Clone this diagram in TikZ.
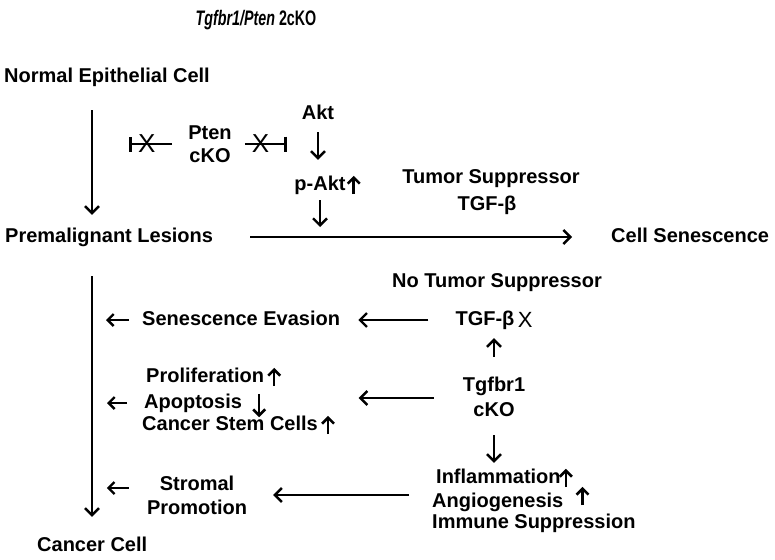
\documentclass[tikz,border=0pt]{standalone}
\usepackage{fontspec}
\usepackage{graphicx}
\setmainfont{Liberation Sans}
\usetikzlibrary{arrows.meta, positioning}

\begin{document}
\begin{tikzpicture}[x=1pt, y=-1pt,
    lbl/.style={font=\fontsize{20}{23}\selectfont\bfseries, inner sep=0pt, text height=14pt, text depth=4pt},
    twoline/.style={font=\fontsize{20}{23}\selectfont\bfseries, inner sep=0pt, align=center},
    xmark/.style={font=\fontsize{22}{24}\selectfont, inner sep=0pt},
    flow/.style={line width=2.4pt, -{Straight Barb[length=7pt, width=14pt, line width=2.4pt]}},
    small/.style={line width=2.4pt, -{Straight Barb[length=6pt, width=12pt, line width=2.4pt]}},
    chg/.style={line width=2.6pt, -{Straight Barb[length=6pt, width=12pt, line width=2.6pt]}},
    inhib/.style={line width=2.4pt, -{Bar[width=15pt, line width=2.6pt]}}]
    \useasboundingbox (0,0) rectangle (775,559);

    \node[font=\fontsize{21}{22}\selectfont\bfseries, inner sep=0pt] (title) at (256,20) {\scalebox{0.68}[1]{\textit{Tgfbr1/Pten} 2cKO}};

    \node[lbl, anchor=west] (normal) at (4,78) {Normal Epithelial Cell};
    \node[lbl, anchor=west] (premal) at (5,237) {Premalignant Lesions};
    \node[lbl, anchor=west] (cancer) at (37,546) {Cancer Cell};
    \node[lbl, anchor=west] (senes) at (611,237) {Cell Senescence};

    \node[twoline] (pten) at (210,144) {Pten\\cKO};
    \node[lbl] (akt) at (318,114) {Akt};
    \node[lbl] (pakt) at (320,185) {p-Akt};

    \node[lbl] (tsup) at (491,178) {Tumor Suppressor};
    \node[lbl] (tgfbup) at (487,205) {TGF-β};

    \node[lbl] (notsup) at (497,282) {No Tumor Suppressor};
    \node[lbl] (tgfb) at (485,320) {TGF-β};
    \node[xmark, right=3pt of tgfb] (tgfbx) {X};
    \node[twoline, font=\fontsize{20}{25}\selectfont\bfseries] (tgfbr) at (494,397) {Tgfbr1\\cKO};

    \node[lbl, anchor=west] (evasion) at (142,320) {Senescence Evasion};
    \node[lbl, anchor=west] (prolif) at (146,377) {Proliferation};
    \node[lbl, anchor=west] (apopt) at (144,403) {Apoptosis};
    \node[lbl, anchor=west] (stem) at (142,425) {Cancer Stem Cells};
    \node[twoline, font=\fontsize{20}{24}\selectfont\bfseries] (stroma) at (197,495) {Stromal\\Promotion};

    \node[lbl, anchor=west] (inflam) at (436,478) {Inflammation};
    \node[lbl, anchor=west] (angio) at (432,502) {Angiogenesis};
    \node[lbl, anchor=west] (immune) at (432,523) {Immune Suppression};

    \draw[flow, shorten <=23pt, shorten >=13pt] ([xshift=88pt]normal.south west) -- ([xshift=87pt]premal.north west);
    \draw[flow, shorten <=30pt, shorten >=20pt] ([xshift=87pt]premal.south west) -- ([xshift=55pt]cancer.north west);
    \draw[flow, shorten <=37pt, shorten >=39pt] (premal.east) -- (senes.west);

    \draw[inhib, shorten <=16pt] (pten.west) -- ++(-59,0) node[xmark, font=\fontsize{26}{28}\selectfont, pos=0.7] (xleft) {X};
    \draw[inhib, shorten <=13pt] (pten.east) -- ++(55,0) node[xmark, font=\fontsize{26}{28}\selectfont, pos=0.52] (xright) {X};

    \draw[flow, shorten <=9pt, shorten >=16pt] (akt.south) -- (akt.south |- pakt.north);
    \draw[flow, shorten <=6pt, shorten >=10pt] (pakt.south) -- (pakt.south |- premal.east);
    \draw[chg] ([xshift=8pt]pakt.south east) -- ([xshift=8pt]pakt.north east);

    \draw[flow, shorten <=27pt, shorten >=18pt] (tgfb.west) -- (evasion.east);
    \draw[small] ([xshift=-13pt]evasion.west) -- ++(-23,0);
    \draw[flow, shorten <=20pt, shorten >=9pt] (tgfbr.north) -- (tgfbr.north |- tgfb.south);

    \draw[flow, shorten <=29pt] ([yshift=-1pt]tgfbr.west) -- ++(-104,0);
    \draw[small] ([xshift=-17pt]apopt.west) -- ++(-20,0);
    \draw[chg] ([xshift=10pt]prolif.south east) -- ([xshift=10pt]prolif.north east);
    \draw[chg] ([xshift=17pt]apopt.north east) -- ([xshift=17pt,yshift=-5pt]apopt.south east);
    \draw[chg] ([xshift=10pt]stem.south east) -- ([xshift=10pt]stem.north east);

    \draw[flow, shorten <=18pt, shorten >=6pt] (tgfbr.south) -- (tgfbr.south |- inflam.north);
    \draw[chg] ([xshift=5pt]inflam.south east) -- ([xshift=5pt]inflam.north east);
    \draw[chg] ([xshift=19pt,yshift=6pt]angio.south east) -- ([xshift=19pt,yshift=6pt]angio.north east);

    \draw[flow, shorten <=23pt, shorten >=26pt] (angio.west |- stroma.east) -- (stroma.east);
    \draw[small] ([xshift=-18pt,yshift=7pt]stroma.west) -- ++(-22,0);
\end{tikzpicture}
\end{document}
